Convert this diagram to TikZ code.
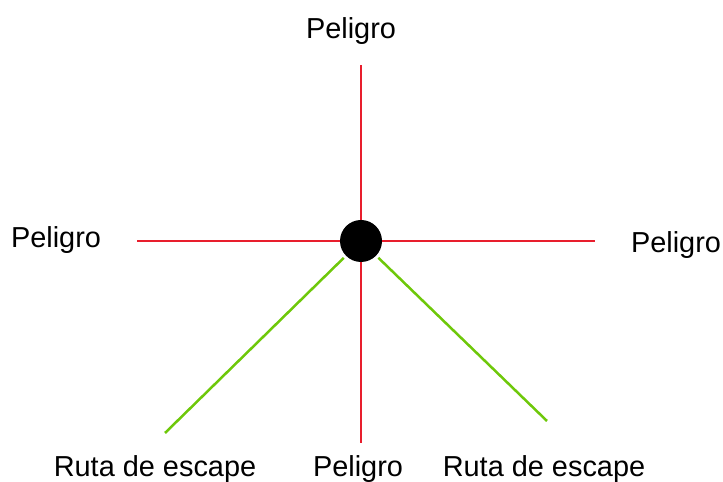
\documentclass[tikz,border=0pt]{standalone}
\usepackage{fontspec}
\setmainfont{Liberation Sans}
\definecolor{hazard}{RGB}{232,30,45}
\definecolor{escape}{RGB}{110,200,10}
\tikzset{
  hazard line/.style={draw=hazard, line width=2bp},
  escape line/.style={draw=escape, line width=2.5bp, shorten <=3bp},
  lbl/.style={font=\fontsize{29}{34}\selectfont, inner sep=0pt}
}
\begin{document}
\begin{tikzpicture}[x=1bp,y=1bp]
  \useasboundingbox (0,0) rectangle (723,482);

  \node[circle, fill=black, minimum size=42bp, inner sep=0pt] (c) at (361,241) {};

  \coordinate (n1) at (361,417);
  \coordinate (n2) at (137,241);
  \coordinate (n3) at (595,241);
  \coordinate (n4) at (361,39);
  \coordinate (e1) at (165,49);
  \coordinate (e2) at (547,61);

  \foreach \i in {1,...,4}
  {
    \path[hazard line] (c) -- (n\i);
  };
  \foreach \i in {1,2}
  {
    \path[escape line] (c) -- (e\i);
  };

  \node[lbl] (t1) at (351,451) {Peligro};
  \node[lbl] (t2) at (56,242) {Peligro};
  \node[lbl] (t3) at (676,237) {Peligro};
  \node[lbl] (t4) at (155,13) {Ruta de escape};
  \node[lbl] (t5) at (358,13) {Peligro};
  \node[lbl] (t6) at (544,13) {Ruta de escape};
\end{tikzpicture}
\end{document}
